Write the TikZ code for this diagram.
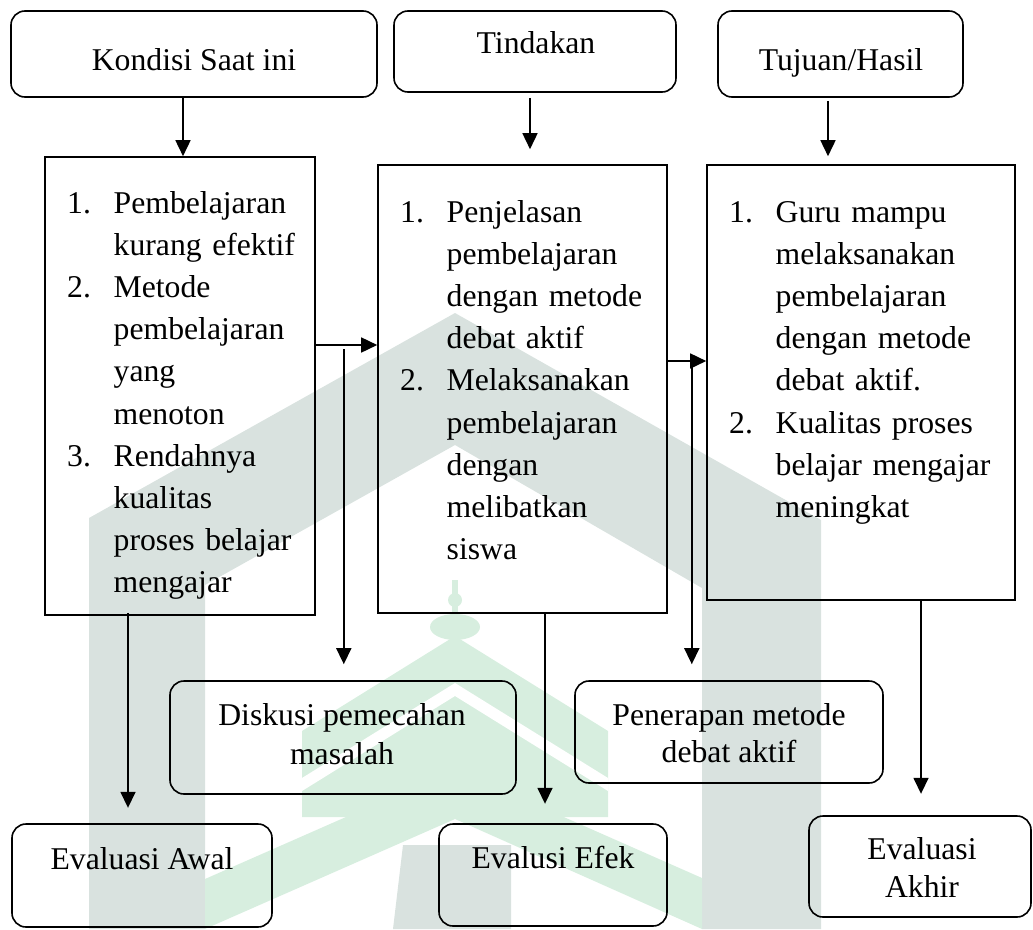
\documentclass[tikz,border=0pt]{standalone}
\usepackage{fontspec}
\setmainfont{Liberation Serif}
\usetikzlibrary{arrows.meta,calc}
\definecolor{wmgrey}{HTML}{D9E2DF}
\definecolor{wmgreen}{HTML}{D7EEDF}
\tikzset{
  box/.style={draw, line width=1.6pt, inner sep=0pt},
  rbox/.style={box, rounded corners=14pt},
  arr/.style={line width=1.6pt, -{Triangle[length=16pt,width=15pt]}},
  txt/.style={inner sep=0pt, anchor=base, font=\fontsize{31.7}{38}\selectfont},
  lst/.style={inner sep=0pt, anchor=base west, align=left, font=\fontsize{31.7}{42.2}\selectfont},
}
\newcommand{\nb}[1]{\makebox[46.5pt][l]{#1}}
\newcommand{\ci}{\hspace*{46.5pt}}
\begin{document}
\begin{tikzpicture}[x=1pt,y=-1pt]
\useasboundingbox (0,0) rectangle (1033,929);
% ---- watermark ----
\begin{scope}
\clip (0,0) rectangle (1033,929);
\fill[wmgrey] (89,929) -- (89,518) -- (455,313) -- (821,520) -- (821,929) -- (702,929) -- (702,588) -- (455,445) -- (205,585) -- (205,929) -- cycle;
\fill[wmgreen] (452,580) rectangle (458,620);
\fill[wmgreen] (455,600) circle[radius=7];
\fill[wmgreen] (455,627) ellipse[x radius=25, y radius=13];
\fill[wmgreen] (455,769) -- (205,879) -- (205,929) -- (455,819) -- (702,929) -- (702,878) -- cycle;
\fill[wmgreen] (455,636) -- (302,731) -- (302,817) -- (608,817) -- (608,731) -- cycle;
\fill[white] (455,683) -- (302,778) -- (302,791) -- (455,696) -- (608,791) -- (608,778) -- cycle;
\fill[wmgrey] (403,845) -- (511,845) -- (511,929) -- (393,929) -- cycle;
\end{scope}
% ---- boxes ----
\node[rbox, minimum width=366pt, minimum height=86pt] (kondisi) at (194,54) {};
\node[rbox, minimum width=282pt, minimum height=81pt] (tindakan) at (535,51.5) {};
\node[rbox, minimum width=245pt, minimum height=86pt] (tujuan) at (840.5,54) {};
\node[box, minimum width=270pt, minimum height=458pt] (list1) at (180,386) {};
\node[box, minimum width=289pt, minimum height=448pt] (list2) at (522.5,389) {};
\node[box, minimum width=308pt, minimum height=435pt] (list3) at (861,382.5) {};
\node[rbox, minimum width=346pt, minimum height=113pt] (diskusi) at (343,737.5) {};
\node[rbox, minimum width=308pt, minimum height=102pt] (penerapan) at (729,732) {};
\node[rbox, minimum width=260pt, minimum height=103pt] (awal) at (142,875.5) {};
\node[rbox, minimum width=228pt, minimum height=102pt] (efek) at (553,875) {};
\node[rbox, minimum width=222pt, minimum height=101pt] (akhir) at (920,866.5) {};
% ---- texts ----
\node[txt] (kondisiT) at (194,70.7) {Kondisi Saat ini};
\node[txt] (tindakanT) at (536,53) {Tindakan};
\node[txt] (tujuanT) at (841,70.7) {Tujuan/Hasil};
\node[lst, text width=232pt] (list1T) at (67,213) {%
\nb{1.}Pembelajaran\\
\ci kurang efektif\\
\nb{2.}Metode\\
\ci pembelajaran\\
\ci yang\\
\ci menoton\\
\nb{3.}Rendahnya\\
\ci kualitas\\
\ci\makebox[180pt][s]{proses belajar}\\
\ci mengajar};
\node[lst, text width=250pt] (list2T) at (400,222) {%
\nb{1.}Penjelasan\\
\ci pembelajaran\\
\ci\makebox[199pt][s]{dengan metode}\\
\ci debat aktif\\
\nb{2.}Melaksanakan\\
\ci pembelajaran\\
\ci dengan\\
\ci melibatkan\\
\ci siswa};
\node[lst, text width=268pt] (list3T) at (729,222) {%
\nb{1.}\makebox[217pt][s]{Guru mampu}\\
\ci melaksanakan\\
\ci pembelajaran\\
\ci\makebox[217pt][s]{dengan metode}\\
\ci debat aktif.\\
\nb{2.}\makebox[217pt][s]{Kualitas proses}\\
\ci\makebox[217pt][s]{belajar mengajar}\\
\ci meningkat};
\node[txt] (diskusiT1) at (342,725) {Diskusi pemecahan};
\node[txt] (diskusiT2) at (342,764) {masalah};
\node[txt] (penerapanT1) at (729,725) {Penerapan metode};
\node[txt] (penerapanT2) at (729,762) {debat aktif};
\node[txt] (awalT) at (142,869) {Evaluasi Awal};
\node[txt] (efekT) at (553,868) {Evalusi Efek};
\node[txt] (akhirT1) at (922,859) {Evaluasi};
\node[txt] (akhirT2) at (922,897) {Akhir};
% ---- connectors ----
\draw[arr] ($(kondisi.south)+(-11,0)$) -- ($(list1.north)+(3,0)$);
\draw[arr] ($(tindakan.south)+(-5,5)$) -- ($(list2.north)+(7.5,-15)$);
\draw[arr] ($(tujuan.south)+(-12.5,3)$) -- ($(list3.north)+(-33,-8)$);
\coordinate (h1) at ($(list1.east)+(0,-41)$);
\coordinate (v1) at ($(h1)+(28,4)$);
\coordinate (h2) at ($(list2.east)+(0,-28)$);
\coordinate (v2) at ($(h2)+(24,2)$);
\draw[arr] (h1) -- (h1 -| list2.west);
\draw[arr] (v1) -- ($(v1 |- diskusi.north)+(0,-16)$);
\draw[arr] (h2) -- (h2 -| list3.west);
\draw[arr] (v2) -- ($(v2 |- penerapan.north)+(0,-16)$);
\draw[arr] ($(list1.south)+(-52,-3)$) -- ($(list1.south -| awal.north)+(-14,192)$);
\draw[arr] ($(list2.south)+(22.5,0)$) -- ($(list2.south)+(22.5,190)$);
\draw[arr] ($(list3.south)+(60,0)$) -- ($(list3.south)+(60,193)$);
\end{tikzpicture}
\end{document}
